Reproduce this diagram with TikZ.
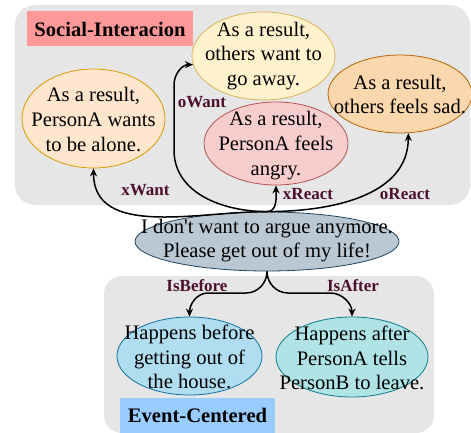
\documentclass[tikz,border=0pt]{standalone}
\usepackage{fontspec}
\setmainfont{Liberation Serif}
\usetikzlibrary{shapes.geometric,arrows.meta}
\definecolor{bggray}{HTML}{E6E6E6}
\definecolor{pinkl}{HTML}{FF9999}
\definecolor{bluel}{HTML}{99CCFF}
\definecolor{ywF}{HTML}{FFF2CC}\definecolor{ywD}{HTML}{D6B656}
\definecolor{paF}{HTML}{FFE6CC}\definecolor{paD}{HTML}{D79B00}
\definecolor{raF}{HTML}{F8CECC}\definecolor{raD}{HTML}{B85450}
\definecolor{orF}{HTML}{FAD7AC}\definecolor{orD}{HTML}{B46504}
\definecolor{cF}{HTML}{BAC8D3}\definecolor{cD}{HTML}{23445D}
\definecolor{hbF}{HTML}{B1DDF0}\definecolor{hbD}{HTML}{10739E}
\definecolor{haF}{HTML}{B0E3E6}\definecolor{haD}{HTML}{0E8088}
\definecolor{relc}{HTML}{4C0F2E}
\begin{document}
\begin{tikzpicture}[x=1pt,y=-1pt,
  bubble/.style={ellipse, draw, line width=0.8pt, inner sep=0pt},
  txt/.style={align=center, font=\fontsize{20.6}{24.6}\selectfont, inner sep=0pt},
  title/.style={font=\fontsize{20.6}{24.6}\selectfont\bfseries, inner sep=0pt},
  rel/.style={font=\fontsize{17}{20}\selectfont\bfseries, text=relc, inner sep=0pt},
  conn/.style={line width=1.5pt, -{Stealth[length=8pt,width=7pt]}}]
\useasboundingbox (0,0) rectangle (471,433);
% group boxes
\fill[bggray, rounded corners=20pt] (15,5) rectangle (470,205);
\fill[bggray, rounded corners=18pt] (104,276) rectangle (434,433);
\fill[pinkl] (27,11) rectangle (193,46);
\node[title] (tsoc) at (110,29) {Social-Interacion};
\fill[bluel] (120,398) rectangle (275,433);
\node[title] (tevt) at (197.5,415) {Event-Centered};
% ellipses
\node[bubble, fill=ywF, draw=ywD, minimum width=143pt, minimum height=88pt] (yw) at (263.5,56) {};
\node[bubble, fill=paF, draw=paD, minimum width=143pt, minimum height=99pt] (pa) at (93.5,118.5) {};
\node[bubble, fill=raF, draw=raD, minimum width=144pt, minimum height=83pt] (ra) at (276,143.5) {};
\node[bubble, fill=orF, draw=orD, minimum width=144pt, minimum height=78pt] (or) at (400,94) {};
\node[bubble, fill=cF, draw=cD, minimum width=264pt, minimum height=59pt] (c) at (267,241.5) {};
\node[bubble, fill=hbF, draw=hbD, minimum width=145pt, minimum height=78pt] (hb) at (189.5,356) {};
\node[bubble, fill=haF, draw=haD, minimum width=152pt, minimum height=80pt] (ha) at (352,357) {};
% texts
\node[txt] (ywt) at (263.5,56) {As a result,\\others want to\\go away.};
\node[txt] (pat) at (93.5,119.5) {As a result,\\PersonA wants\\to be alone.};
\node[txt] (rat) at (276,145.5) {As a result,\\PersonA feels\\angry.};
\node[txt] (ort) at (400,94.5) {As a result,\\others feels sad.};
\node[txt] (ct) at (267,240.5) {I don\textquotesingle t want to argue anymore.\\Please get out of my life!};
\node[txt] (hbt) at (189.5,357) {Happens before\\getting out of\\the house.};
\node[txt] (hat) at (352,358) {Happens after\\PersonA tells\\PersonB to leave.};
% connectors
\draw[conn] (c.north) to[out=180,in=-90] (pa.south);
\draw[conn] (c.north) to[out=180,in=-90] (174,150) -- (174,85) to[out=90,in=180] (yw.187);
\draw[conn] (c.north) to[out=0,in=-90] (ra.south);
\draw[conn] (c.north) to[out=0,in=-90] (or.-78);
\draw[conn] (c.south) to[out=-90,in=0] (246,293) -- (208,293) to[out=180,in=90] (hb.north);
\draw[conn] (c.south) to[out=-90,in=180] (288,293) -- (330,293) to[out=0,in=90] (ha.north);
% relation labels
\node[rel] (lxw) at (145.5,190) {xWant};
\node[rel] (low) at (202,102) {oWant};
\node[rel] (lxr) at (308,194) {xReact};
\node[rel] (lor) at (405,194) {oReact};
\node[rel] (lib) at (197,286) {IsBefore};
\node[rel] (lia) at (353,286) {IsAfter};
\end{tikzpicture}
\end{document}
